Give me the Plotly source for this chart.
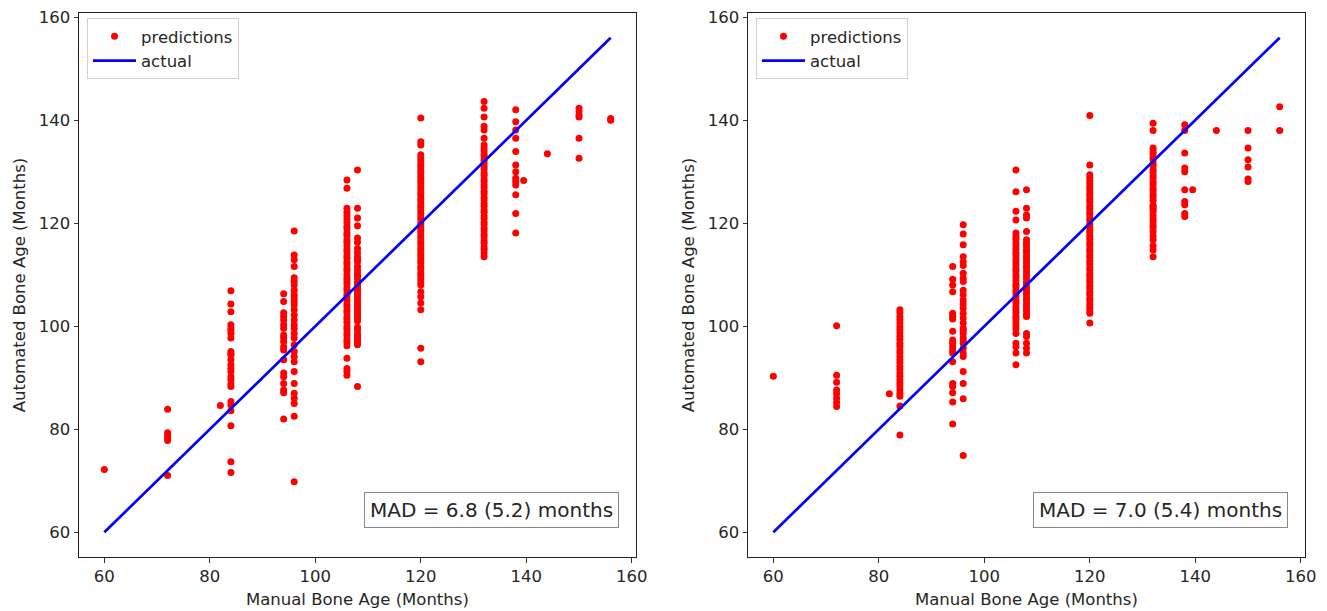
import plotly.graph_objects as go

# ---------------- data ----------------
# Left panel: predictions per manual bone-age value
left_x_values = [60, 72, 82, 84, 94, 96, 106, 108, 120, 132, 138, 139.5, 144, 150, 156]
left_060 = [72.2]
left_072 = [83.9, 79.3, 78.9, 78.4, 77.8, 71.0]
left_082 = [84.6]
left_084 = [106.9, 104.3, 102.8, 100.3, 99.6, 99.1, 98.6, 97.7, 95.1, 94.7, 94.4, 93.5, 92.5,
            91.8, 91.2, 90.2, 89.6, 88.8, 88.3, 85.4, 84.7, 83.6, 80.7, 73.7, 71.6]
left_094 = [106.3, 104.8, 102.6, 101.9, 101.2, 100.3, 99.6, 98.3, 97.7, 97.0, 96.0, 95.4, 93.5,
            90.9, 90.2, 88.9, 87.6, 87.1, 82.0]
left_096 = [118.5, 113.8, 112.9, 111.6, 108.7, 108.0, 107.0, 106.1, 104.8, 104.1, 103.2, 102.2,
            101.2, 100.3, 99.6, 98.6, 97.7, 96.4, 95.1, 94.1, 93.1, 91.2, 88.9, 87.0, 86.0, 85.0,
            82.5, 69.8, 109.4, 105.5]
left_106 = [128.4, 126.8, 122.9, 122.1, 121.5, 120.8, 120.2, 119.4, 118.9, 118.1, 117.6, 116.8,
            116.3, 115.6, 114.9, 114.4, 113.7, 113.2, 112.4, 111.9, 111.2, 110.7, 110.0, 109.3,
            108.8, 108.2, 107.4, 106.9, 106.2, 105.7, 105.0, 104.3, 103.8, 103.1, 102.6, 101.8,
            101.3, 100.7, 99.9, 99.4, 98.7, 98.2, 97.4, 96.9, 96.2, 93.8, 91.8, 91.2, 90.5]
left_108 = [130.3, 122.9, 121.0, 119.5, 117.1, 116.3, 115.1, 114.3, 113.5, 113.0, 112.5, 111.6,
            110.9, 110.3, 109.8, 109.3, 108.7, 108.2, 107.7, 107.2, 106.7, 106.2, 105.7, 105.1,
            104.5, 104.0, 103.5, 103.0, 102.5, 102.0, 101.6, 101.0, 99.8, 99.3, 98.6, 98.2,
            97.7, 97.2, 96.9, 96.4, 88.3]
left_120 = [140.4, 135.8, 135.2, 133.3, 132.7, 132.1, 131.4, 130.9, 130.2, 129.7, 129.0, 128.4,
            127.9, 127.2, 126.7, 126.0, 125.5, 124.8, 124.3, 123.6, 123.1, 122.4, 121.9, 121.2,
            120.7, 120.0, 119.5, 118.8, 118.3, 117.6, 117.1, 116.4, 115.9, 115.2, 114.7, 114.0,
            113.5, 112.8, 112.3, 111.6, 111.1, 110.4, 109.9, 109.2, 108.6, 108.0, 106.7, 105.7,
            104.5, 103.2, 95.7, 93.1]
left_132 = [143.6, 142.3, 140.6, 138.8, 138.1, 136.5, 135.2, 134.6, 134.0, 133.4, 132.9, 132.2,
            131.7, 131.0, 130.5, 129.8, 129.3, 128.6, 128.1, 127.4, 126.9, 126.2, 125.7, 125.0,
            124.5, 123.8, 123.3, 122.6, 122.1, 121.4, 120.9, 120.2, 119.7, 119.0, 118.5, 117.8,
            117.3, 116.6, 116.1, 115.4, 114.9, 114.2, 113.5]
left_138 = [142.0, 139.7, 138.1, 136.5, 133.9, 131.3, 130.0, 128.7, 128.1, 127.4, 125.5, 121.9, 118.1]
left_1395 = [128.3]
left_144 = [133.5]
left_150 = [142.3, 141.7, 141.0, 140.6, 136.5, 132.6]
left_156 = [140.0, 140.3]
left_groups = [left_060, left_072, left_082, left_084, left_094, left_096, left_106, left_108,
               left_120, left_132, left_138, left_1395, left_144, left_150, left_156]

# Right panel
right_x_values = [60, 72, 82, 84, 94, 96, 106, 108, 120, 132, 138, 139.5, 144, 150, 156]
right_060 = [90.3]
right_072 = [100.1, 90.5, 89.1, 87.6, 86.9, 86.0, 85.2, 84.4]
right_082 = [86.9]
right_084 = [103.2, 102.6, 101.9, 101.3, 100.6, 99.9, 99.3, 98.7, 98.0, 97.4, 96.7, 96.1, 95.4,
             94.8, 94.1, 93.5, 92.9, 92.2, 91.6, 90.9, 90.3, 89.6, 89.0, 88.4, 87.7, 87.0, 86.4,
             84.5, 78.9]
right_094 = [111.6, 109.1, 108.0, 106.7, 102.5, 101.9, 101.4, 99.0, 97.3, 96.7, 96.0, 95.3, 94.8,
             93.1, 88.9, 88.3, 87.1, 85.3, 81.0]
right_096 = [119.7, 117.9, 115.8, 113.5, 112.5, 111.8, 110.3, 109.3, 108.7, 107.0, 106.1, 105.1,
             104.3, 103.5, 102.5, 101.6, 100.6, 99.6, 99.1, 98.6, 97.7, 97.2, 96.7, 95.7, 94.8,
             94.1, 91.2, 88.9, 85.9, 74.9]
right_106 = [130.3, 126.1, 122.3, 120.6, 118.1, 117.4, 116.9, 116.2, 115.6, 115.0, 114.3, 113.8,
             113.1, 112.5, 111.9, 111.2, 110.7, 110.0, 109.4, 108.8, 108.1, 107.6, 106.9, 106.3,
             105.7, 105.0, 104.5, 103.8, 103.2, 102.6, 101.9, 101.4, 100.7, 100.1, 99.5, 98.6,
             96.7, 96.0, 94.8, 92.5]
right_108 = [126.5, 122.9, 121.6, 121.0, 118.4, 116.8, 116.1, 115.5, 114.8, 114.3, 113.6, 113.0,
             112.4, 111.7, 111.2, 110.5, 109.9, 109.3, 108.6, 108.1, 107.4, 106.8, 106.2, 105.5,
             105.0, 104.3, 103.7, 103.1, 102.4, 101.9, 98.6, 98.0, 96.7, 95.7, 94.8]
right_120 = [140.9, 131.3, 129.4, 128.8, 128.2, 127.6, 127.0, 126.5, 125.8, 125.3, 124.6, 124.1,
             123.4, 122.9, 122.2, 121.7, 121.0, 120.5, 119.8, 119.3, 118.6, 118.1, 117.4, 116.9,
             116.2, 115.7, 115.0, 114.5, 113.8, 113.3, 112.6, 112.1, 111.4, 110.9, 110.2, 109.7,
             109.0, 108.5, 107.8, 107.3, 106.6, 106.1, 105.4, 104.9, 104.2, 103.6, 103.0, 102.5,
             100.6]
right_132 = [139.4, 138.0, 134.6, 134.0, 133.5, 132.8, 132.3, 131.6, 131.1, 130.4, 129.9, 129.2,
             128.7, 128.0, 127.5, 126.8, 126.3, 125.6, 125.1, 124.4, 123.5, 123.1, 122.7, 122.2,
             121.5, 120.8, 120.3, 119.6, 119.1, 118.4, 117.5, 116.8, 115.6, 114.8, 113.5]
right_138 = [139.1, 138.0, 133.6, 130.7, 130.0, 126.5, 124.2, 123.6, 121.9, 121.3]
right_1395 = [126.5]
right_144 = [138.0]
right_150 = [138.0, 134.6, 132.3, 130.9, 128.6, 128.1]
right_156 = [142.6, 138.0]
right_groups = [right_060, right_072, right_082, right_084, right_094, right_096, right_106,
                right_108, right_120, right_132, right_138, right_1395, right_144, right_150,
                right_156]

# identity ("actual") line
actual_line = [60, 156]
mad_labels = ["MAD = 6.8 (5.2) months", "MAD = 7.0 (5.4) months"]
axis_ticks = [60, 80, 100, 120, 140, 160]
x_title = "Manual Bone Age (Months)"
y_title = "Automated Bone Age (Months)"


def flatten(xs, groups):
    px, py = [], []
    for x, g in zip(xs, groups):
        px += [x] * len(g)
        py += g
    return px, py


# Body margin is removed by a post-script so the figure fills the window exactly.
W, H = 1327, 611
FONT = "DejaVu Sans"
TXT = "#262626"
FS = 16.5


def px_x(p):
    return p / W


def px_y(p):
    return (H - p) / H


fig = go.Figure()
panels = [(left_x_values, left_groups, "x", "y", "legend"),
          (right_x_values, right_groups, "x2", "y2", "legend2")]
for xs, groups, xa, ya, lg in panels:
    px, py = flatten(xs, groups)
    fig.add_trace(go.Scatter(x=px, y=py, mode="markers", name="predictions",
                             marker=dict(color="#ff0000", size=7, line=dict(width=0)),
                             xaxis=xa, yaxis=ya, legend=lg))
    fig.add_trace(go.Scatter(x=actual_line, y=actual_line, mode="lines", name="actual",
                             line=dict(color="#0000ff", width=2.7),
                             xaxis=xa, yaxis=ya, legend=lg))

x_domains = [[px_x(79), px_x(636)], [px_x(748), px_x(1305)]]
y_domain = [px_y(557), px_y(13)]

axis_common = dict(
    range=[55.2, 160.8], tickvals=axis_ticks, ticks="outside", ticklen=4.5, tickwidth=1,
    tickcolor="#333", showline=True, linecolor="#222", linewidth=1, mirror=True,
    showgrid=False, zeroline=False, tickfont=dict(family=FONT, size=FS, color=TXT),
    automargin=False, ticklabeloverflow="allow",
)

layout = dict(
    width=W, height=H, margin=dict(l=0, r=0, t=0, b=0),
    paper_bgcolor="white", plot_bgcolor="white",
    font=dict(family=FONT, color=TXT),
    showlegend=True,
)
for xd, nm, lx in zip(x_domains, ["", "2"], [87, 756]):
    layout["xaxis" + nm] = dict(axis_common, domain=xd, anchor="y" + nm)
    layout["yaxis" + nm] = dict(axis_common, domain=y_domain, anchor="x" + nm,
                                title=dict(text=y_title, standoff=8,
                                           font=dict(family=FONT, size=FS, color=TXT)))
    layout["legend" + nm] = dict(
        x=px_x(lx), y=px_y(18), xanchor="left", yanchor="top",
        bgcolor="rgba(255,255,255,0.8)", bordercolor="#d0d0d0", borderwidth=1,
        font=dict(family=FONT, size=FS, color=TXT), itemwidth=43,
    )
fig.update_layout(**layout)

for i, xd in enumerate(x_domains):
    # x-axis title
    fig.add_annotation(
        text=x_title, xref="paper", yref="paper",
        x=(xd[0] + xd[1]) / 2, y=px_y(599), xanchor="center", yanchor="middle",
        showarrow=False, font=dict(family=FONT, size=FS, color=TXT),
    )
    # MAD box
    fig.add_annotation(
        text=mad_labels[i], xref="paper", yref="paper",
        x=xd[1] - 17 / W, y=px_y(528), xanchor="right", yanchor="bottom",
        showarrow=False, font=dict(family=FONT, size=20, color=TXT),
        bgcolor="white", bordercolor="#888888", borderwidth=1, borderpad=5,
    )

fig.write_html(
    "out.html",
    config={"displayModeBar": False},
    post_script="document.body.style.margin='0px';document.body.style.overflow='hidden';",
)
